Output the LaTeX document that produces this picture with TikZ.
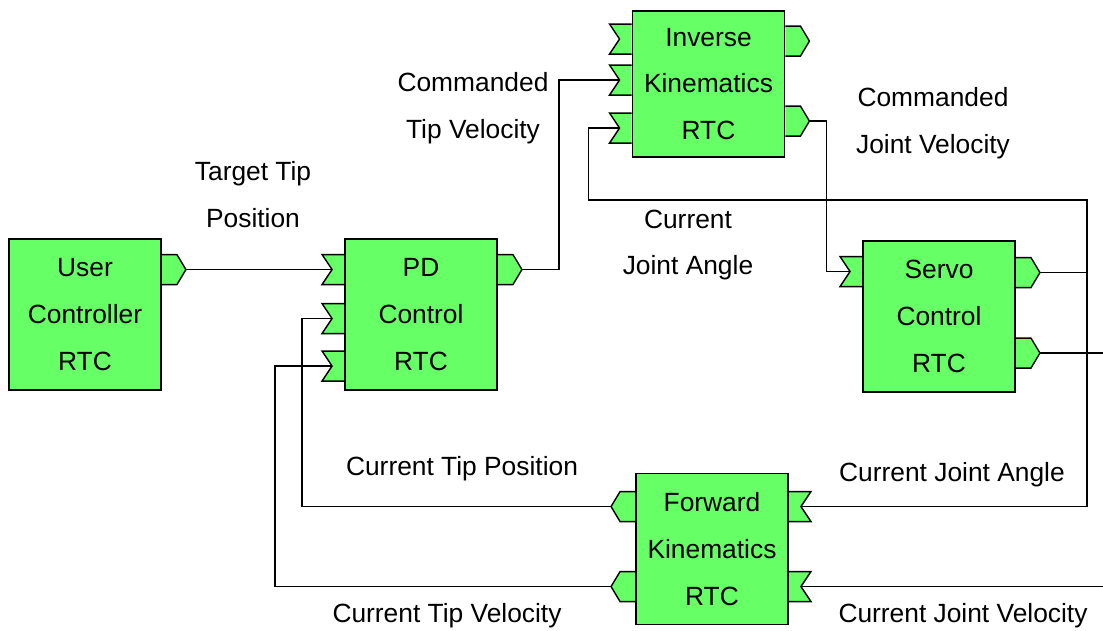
\documentclass[tikz,border=0pt]{standalone}
\usepackage{fontspec}
\setmainfont{Liberation Sans}
\usetikzlibrary{calc,backgrounds}

\definecolor{rtcgreen}{RGB}{102,255,102}

\tikzset{
  rtc/.style={draw, line width=1.1pt, fill=rtcgreen, align=center,
    minimum width=3.04cm, minimum height=3.02cm, inner sep=0pt},
  lbl/.style={align=center, inner sep=0pt},
  wire/.style={line width=0.8pt},
  inport/.pic={
    \draw[line width=0.8pt, fill=rtcgreen] (0,-15) -- (-22,-15) -- (-12,0) -- (-22,15) -- (0,15);
    \coordinate (-tip) at (-12,0);
  },
  outport/.pic={
    \draw[line width=0.8pt, fill=rtcgreen] (0,-15) -- (15,-15) -- (24,0) -- (15,15) -- (0,15);
    \coordinate (-tip) at (24,0);
  }
}

\begin{document}
\begin{tikzpicture}[x=0.02cm, y=-0.02cm, font=\fontsize{15}{26.7}\selectfont]
\useasboundingbox (0,0) rectangle (1103,630);

% components
\node[rtc] (user) at (85,314.5) {User\\Controller\\RTC};
\node[rtc] (pd) at (421,314.5) {PD\\Control\\RTC};
\node[rtc, minimum height=2.92cm] (ik) at (708.5,84) {Inverse\\Kinematics\\RTC};
\node[rtc] (servo) at (939,316.5) {Servo\\Control\\RTC};
\node[rtc] (fk) at (712,549) {Forward\\Kinematics\\RTC};

% ports
\begin{scope}[on background layer]
\pic (uo) at ($(user.north east)+(0,31.5)$) {outport};
\pic (pdi1) at ($(pd.north west)+(0,31.5)$) {inport};
\pic (pdi2) at ($(pd.north west)+(0,80.5)$) {inport};
\pic (pdi3) at ($(pd.north west)+(0,128)$) {inport};
\pic (pdo) at ($(pd.north east)+(0,31.5)$) {outport};
\pic (iki1) at ($(ik.north west)+(0,29)$) {inport};
\pic (iki2) at ($(ik.north west)+(0,70)$) {inport};
\pic (iki3) at ($(ik.north west)+(0,118)$) {inport};
\pic (iko1) at ($(ik.north east)+(0,31)$) {outport};
\pic (iko2) at ($(ik.north east)+(0,111)$) {outport};
\pic (svi) at ($(servo.north west)+(0,31.5)$) {inport};
\pic (svo1) at ($(servo.north east)+(0,32.5)$) {outport};
\pic (svo2) at ($(servo.north east)+(0,113)$) {outport};
\pic[xscale=-1] (fko1) at ($(fk.north west)+(0,34)$) {outport};
\pic[xscale=-1] (fko2) at ($(fk.north west)+(0,114)$) {outport};
\pic[xscale=-1] (fki1) at ($(fk.north east)+(0,34)$) {inport};
\pic[xscale=-1] (fki2) at ($(fk.north east)+(0,114)$) {inport};
\end{scope}

% connections
\coordinate (bus) at (1087,200);
\coordinate (edge) at (1103,0);
\draw[wire] (uo-tip) -- (pdi1-tip);
\draw[wire] (pdo-tip) -- ++(37,0) |- (iki2-tip);
\draw[wire] (iko2-tip) -- ++(17,0) |- (svi-tip);
\draw[wire] (iki3-tip) -- ++(-31,0) |- (bus) |- (fki1-tip);
\draw[wire] (svo1-tip) -- (svo1-tip -| bus);
\draw[wire] (svo2-tip) -- (svo2-tip -| edge);
\draw[wire] (fki2-tip) -- (fki2-tip -| edge);
\draw[wire] (pdi2-tip) -- ++(-30,0) |- (fko1-tip);
\draw[wire] (pdi3-tip) -- ++(-57,0) |- (fko2-tip);

% signal names
\node[lbl] (ttp) at (253,195) {Target Tip\\Position};
\node[lbl] (ctv) at (473,108) {Commanded\\Tip Velocity};
\node[lbl] (cjv) at (933,123.5) {Commanded\\Joint Velocity};
\node[lbl] (cja) at (688,245) {Current\\Joint Angle};
\node[lbl] (tpos) at (462,469) {Current Tip Position};
\node[lbl] (jang) at (952,475) {Current Joint Angle};
\node[lbl] (tvel) at (447,616) {Current Tip Velocity};
\node[lbl] (jvel) at (963,616) {Current Joint Velocity};
\end{tikzpicture}
\end{document}
